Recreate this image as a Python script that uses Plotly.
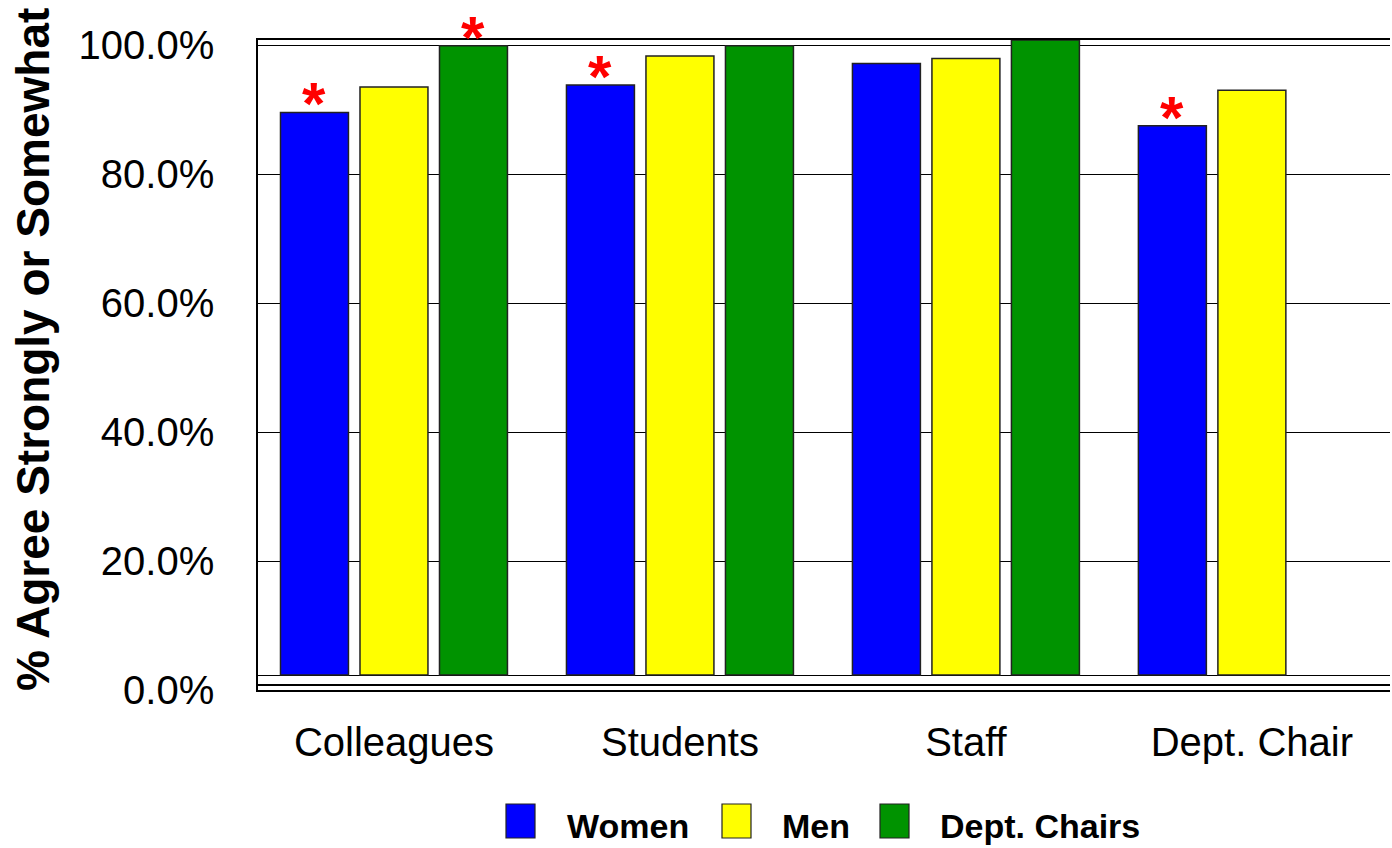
import plotly.graph_objects as go

categories = ["Colleagues", "Students", "Staff", "Dept. Chair"]
series_names = ["Women", "Men", "Dept. Chairs"]
women = [88.6, 92.9, 96.3, 86.5]
men = [92.6, 97.5, 97.1, 92.1]
chairs = [99.1, 99.1, 100.0, None]
# significance markers (asterisks) per series
women_sig = [True, True, False, True]
men_sig = [False, False, False, False]
chairs_sig = [True, False, False, False]
colors = ["#0000FF", "#FFFF00", "#009300"]
y_ticks = [0, 20, 40, 60, 80, 100]

W, H = 1392, 848
L, R, T, B = 258, 2, 40, 158
plot_w = W - L - R
plot_h = H - T - B

FONT = "Liberation Sans, Arial, sans-serif"

fig = go.Figure()
series = [women, men, chairs]
sigs = [women_sig, men_sig, chairs_sig]
for name, vals, col in zip(series_names, series, colors):
    fig.add_trace(go.Bar(
        x=categories, y=vals, name=name, yaxis="y",
        marker=dict(color=col, line=dict(color="#222222", width=1.5)),
        showlegend=False, hoverinfo="x+y+name",
    ))

# carrier for the percentage grid axis (back wall scale)
fig.add_trace(go.Scatter(
    x=[categories[0]], y=[y_ticks[0]], yaxis="y2", mode="markers",
    marker=dict(opacity=0), showlegend=False, hoverinfo="skip",
))

# asterisks
n_series = len(series)
bargap = 0.166
pitch = (1 - bargap) / n_series
for si, (vals, sg) in enumerate(zip(series, sigs)):
    off = (si - (n_series - 1) / 2) * pitch
    for ci, (v, s) in enumerate(zip(vals, sg)):
        if s and v is not None:
            fig.add_annotation(
                x=ci + off, y=v, xref="x", yref="y", text="<b>*</b>",
                showarrow=False, yanchor="bottom", yshift=-27,
                font=dict(family=FONT, size=60, color="#FF0000"),
            )

# custom legend
def px_x(p):
    return (p - L) / plot_w

def px_y(p):
    return (H - B - p) / plot_h

legend_pos = [(506, 565), (722, 780), (880, 938)]
for (bx, tx), name, col in zip(legend_pos, series_names, colors):
    fig.add_shape(type="rect", xref="paper", yref="paper",
                  x0=px_x(bx), x1=px_x(bx + 29), y0=px_y(838), y1=px_y(804),
                  fillcolor=col, line=dict(color="#222222", width=1.2))
    fig.add_annotation(xref="paper", yref="paper", x=px_x(tx), y=px_y(826),
                       text="<b>" + name + "</b>", showarrow=False,
                       xanchor="left", yanchor="middle",
                       font=dict(family=FONT, size=34, color="black"))

# y title
fig.add_annotation(xref="paper", yref="paper", x=px_x(33), y=px_y(350),
                   text="<b>% Agree Strongly or Somewhat</b>", textangle=-90,
                   showarrow=False, xanchor="center", yanchor="middle",
                   font=dict(family=FONT, size=46, color="black"))

# extra floor line
fig.add_shape(type="line", xref="paper", yref="paper", x0=0, x1=1,
              y0=px_y(685), y1=px_y(685), line=dict(color="black", width=2))

fig.update_layout(
    width=W, height=H,
    margin=dict(l=L, r=R, t=T, b=B, pad=0),
    paper_bgcolor="white", plot_bgcolor="white",
    barmode="group", bargap=bargap, bargroupgap=0.145,
    font=dict(family=FONT, color="black"),
    xaxis=dict(
        type="category", range=[-0.4755, 3.483],
        showline=True, linecolor="black", linewidth=1.5, mirror=True,
        ticks="", ticklabelstandoff=16,
        tickfont=dict(family=FONT, size=40, color="black"),
        showgrid=False, zeroline=False,
    ),
    yaxis=dict(
        range=[-2.362, 100], showgrid=False,
        showticklabels=False, zeroline=True, zerolinecolor="black",
        zerolinewidth=1.2, showline=False, ticks="",
    ),
    yaxis2=dict(
        overlaying="y", side="left",
        range=[0, 100.775], tickvals=y_ticks,
        ticktext=[f"{v:.1f}%" for v in y_ticks],
        showline=True, linecolor="black", linewidth=1.5,
        showgrid=True, gridcolor="black", gridwidth=1,
        zeroline=False, ticks="", ticklabelstandoff=34,
        tickfont=dict(family=FONT, size=40, color="black"),
    ),
)

fig.write_html(
    "out.html",
    config={"displayModeBar": False},
    post_script="document.body.style.margin='0';document.body.style.overflow='hidden';",
)
